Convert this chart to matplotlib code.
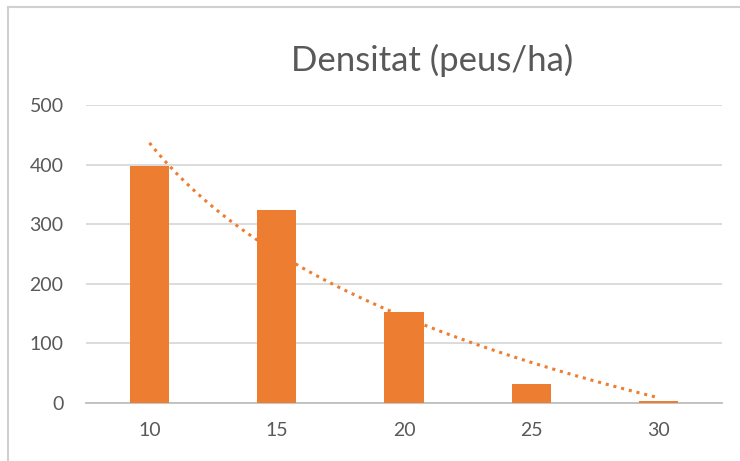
import matplotlib.pyplot as plt
import numpy as np
from matplotlib.lines import Line2D

# diameter classes (cm) and stand density (trees/ha)
classes = ['10', '15', '20', '25', '30']
density = [398, 324, 153, 32, 3]

orange = '#ED7D31'
grey_text = '#595959'
grid_col = '#D9D9D9'

plt.rcParams['font.family'] = ['Lato', 'DejaVu Sans']

x = np.arange(1, len(classes) + 1)

# logarithmic trendline fitted on the bars
b, a = np.polyfit(np.log(x), density, 1)
xs = np.linspace(1, len(classes), 100)
trend_s = a + b * np.log(xs)

fig = plt.figure(figsize=(7.4, 4.61), dpi=100)
ax = fig.add_axes([0.116, 0.126, 0.86, 0.646])

ax.bar(x, density, width=0.31, color=orange, zorder=3)
ax.plot(xs, trend_s, color=orange, linestyle=(0, (1, 1.6)), linewidth=2.2, zorder=4)

ax.set_xlim(0.5, len(classes) + 0.5)
ax.set_ylim(0, 500)
ax.set_yticks(range(0, 501, 100))
ax.set_xticks(x)
ax.set_xticklabels(classes)
ax.yaxis.grid(True, color=grid_col, linewidth=1.3, zorder=0)
ax.tick_params(length=0, labelsize=14, colors=grey_text)
ax.tick_params(axis='y', pad=16)
ax.tick_params(axis='x', pad=14)
for s in ['top', 'right', 'left']:
    ax.spines[s].set_visible(False)
ax.spines['bottom'].set_color('#BFBFBF')
ax.spines['bottom'].set_linewidth(1.3)

fig.text(0.584, 0.868, 'Densitat (peus/ha)', ha='center', va='center',
         fontsize=25, color=grey_text)

# chart frame (left and top edges)
fig.add_artist(Line2D([0.011, 0.011], [0, 0.985], color='#D0D0D0', linewidth=1.5))
fig.add_artist(Line2D([0.011, 1], [0.985, 0.985], color='#D0D0D0', linewidth=1.5))

fig.savefig('out.png', dpi=100)
